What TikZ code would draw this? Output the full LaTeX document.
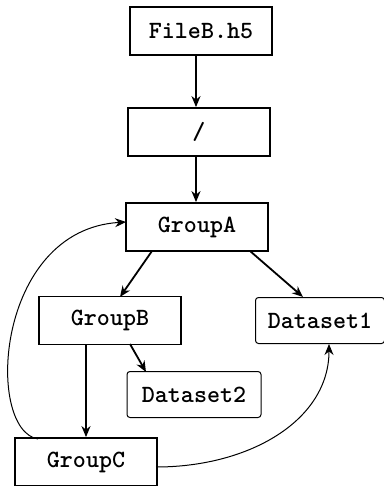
\documentclass[tikz,border=0pt]{standalone}
\usepackage{fontspec}
\newfontfamily\boldtt{lmmonolt10-bold.otf}
\usetikzlibrary{arrows.meta}
\begin{document}
\begin{tikzpicture}[x=0.5pt,y=-0.5pt,
  font=\fontsize{12.4}{14}\selectfont\boldtt,
  grp/.style={draw, line width=0.9pt, minimum width=71pt, minimum height=24pt, inner sep=0pt},
  dset/.style={draw, line width=0.5pt, rounded corners=1.5pt, minimum width=67pt, minimum height=23pt, inner sep=0pt},
  tarr/.style={-{Stealth[length=5.5pt,width=4.5pt]}, line width=0.9pt},
  carr/.style={-{Stealth[length=5.5pt,width=4.5pt]}, line width=0.5pt}]
\useasboundingbox (0,0) rectangle (384,486);
\node[grp] (f) at (201,31) {FileB.h5};
\node[grp] (r) at (199,132) {/};
\node[grp] (a) at (197,227) {GroupA};
\node[grp] (b) at (110,320.5) {GroupB};
\node[dset,minimum width=64.5pt] (d1) at (320,320.5) {Dataset1};
\node[dset] (d2) at (194,394.5) {Dataset2};
\node[grp] (c) at (86,462) {GroupC};
\coordinate (x0) at (196,0);
\draw[tarr] (f.south -| x0) -- (r.north -| x0);
\draw[tarr] (r.south -| x0) -- (a.north -| x0);
\coordinate (a1) at (152,251);
\coordinate (b1) at (120,297);
\draw[tarr] (a1) -- (b1);
\coordinate (a2) at (250,251);
\coordinate (b2) at (303,297);
\draw[tarr] (a2) -- (b2);
\draw[tarr] (b.south -| c.north) -- (c.north);
\coordinate (b3) at (130,344);
\coordinate (e2) at (146,372);
\draw[tarr] (b3) -- (e2);
\coordinate (c1) at (38,439);
\coordinate (a3) at (126,222);
\draw[carr] (c1) .. controls (-15,430) and (-5,230) .. (a3);
\coordinate (c2) at (156,467);
\coordinate (d1b) at (329,344);
\draw[carr] (c2) .. controls (250,467) and (329,420) .. (d1b);
\end{tikzpicture}
\end{document}
